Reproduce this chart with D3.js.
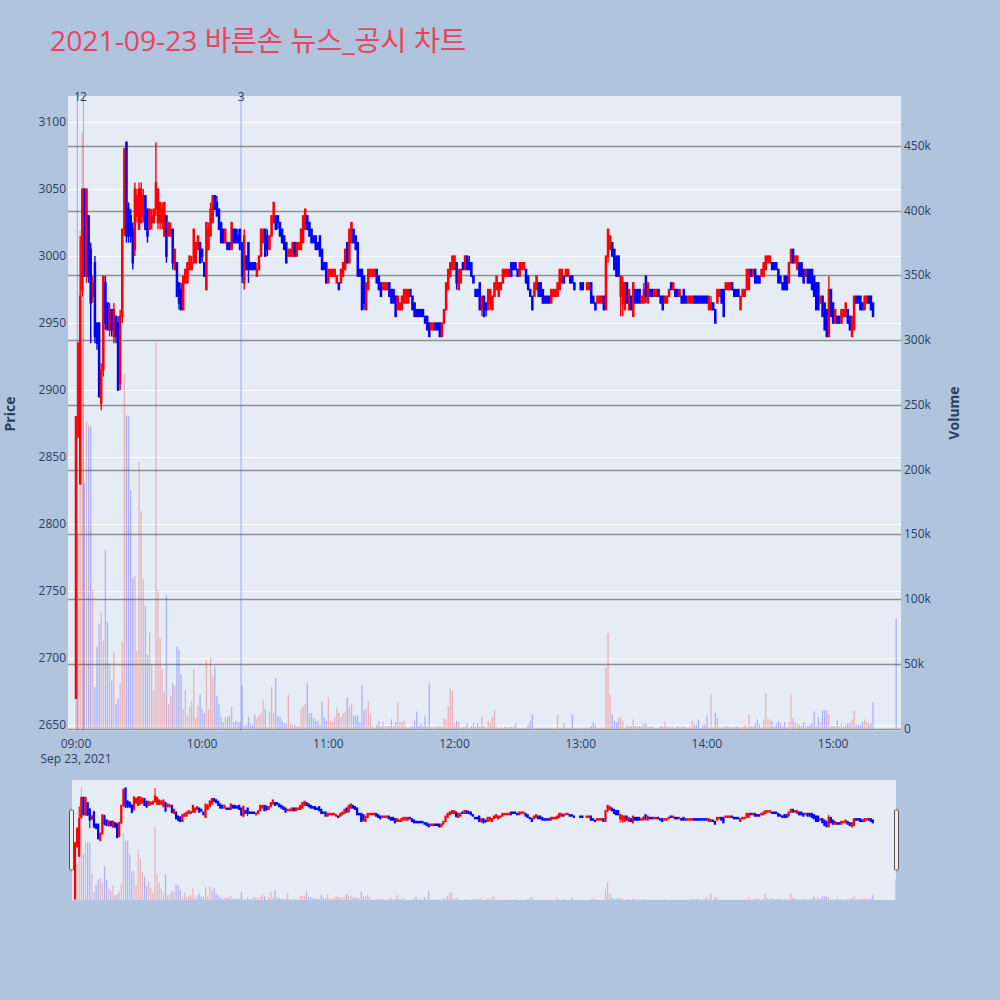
<!DOCTYPE html>
<html><head><meta charset="utf-8">
<script src="https://cdn.jsdelivr.net/npm/d3@7"></script>
<style>body{margin:0;background:#b0c4de;} svg{display:block;font-family:"Open Sans",verdana,arial,"Noto Sans CJK KR",sans-serif;}</style>
</head><body><svg id="c" width="1000" height="1000"></svg>
<script>
const titleText = "2021-09-23 바른손 뉴스_공시 차트";
const tradeDate = "2021-09-23";
const startTime = "09:00:00";
const opens = [2670,2865,2830,2975,3050,2985,3030,3005,2970,2995,
2950,2950,2890,2915,2980,2965,2945,2960,2940,2955,
2950,2905,2955,3020,3085,3035,3030,3020,3005,3030,
3020,3025,3030,3045,3035,3020,3025,3025,3035,3025,
3025,3025,3015,3030,3015,3015,3020,2990,2995,2980,
2975,2960,2980,2980,2990,2990,2995,2995,3005,3010,
3005,2995,2975,3005,3015,3025,3045,3040,3035,3025,
3020,3010,3010,3010,3005,3020,3020,3015,3020,3010,
2980,3000,3010,2995,2995,2995,2985,2990,3000,3010,
3020,3015,3005,3015,3025,3030,3030,3025,3020,3015,
3010,3000,3000,3000,3010,3000,3005,3005,3010,3020,
3030,3025,3020,3015,3015,3010,3015,3005,2995,2995,
2980,2985,2985,2985,2980,2980,2980,2985,2990,3010,
2995,3010,3020,3015,3010,2990,2990,2985,2960,2975,
2985,2985,2985,2990,2985,2980,2975,2975,2975,2980,
2975,2975,2970,2960,2960,2960,2965,2965,2965,2975,
2970,2965,2960,2960,2960,2960,2955,2955,2950,2945,
2945,2950,2950,2950,2940,2950,2960,2975,2985,2990,
2990,2995,2975,2980,2995,2990,3000,2995,2995,2985,
2975,2975,2980,2960,2970,2965,2960,2965,2960,2970,
2975,2970,2975,2980,2985,2985,2985,2995,2995,2995,
2990,2985,2990,2990,2990,2985,2975,2970,2970,2975,
2980,2980,2975,2970,2970,2970,2965,2970,2970,2970,
2975,2980,2985,2985,2985,2985,2985,2980,2975,2975,
2980,2980,2975,2975,2975,2980,2970,2965,2965,2965,
2965,2970,2960,3000,3005,3010,3005,3000,3000,2970,
2965,2960,2980,2960,2970,2955,2975,2975,2975,2965,
2965,2985,2965,2975,2975,2970,2970,2975,2970,2970,
2965,2965,2970,2980,2975,2975,2975,2970,2970,2975,
2970,2965,2965,2965,2970,2970,2970,2970,2970,2970,
2970,2960,2960,2965,2960,2965,2970,2975,2975,2975,
2975,2975,2980,2975,2975,2975,2960,2970,2970,2975,
2975,2990,2985,2990,2985,2985,2985,2985,2990,2995,
2995,2995,2995,2995,2990,2985,2980,2985,2985,2980,
2995,3005,2995,2990,2995,2995,2990,2985,2990,2990,
2990,2985,2980,2980,2965,2970,2965,2960,2940,2975,
2965,2950,2955,2955,2950,2955,2955,2960,2955,2940,
2945,2970,2970,2970,2965,2960,2965,2970,2970,2965];
const highs = [2880,2935,3015,3050,3050,3050,3030,3010,2985,3000,
2950,2950,2920,2985,2985,2965,2965,2960,2965,2955,
2955,2960,3020,3080,3085,3040,3035,3025,3055,3050,
3055,3055,3050,3045,3035,3035,3035,3035,3085,3050,
3040,3040,3040,3030,3025,3025,3020,3005,2995,2980,
2980,2985,2990,2995,3000,3000,3020,3010,3015,3010,
3005,2995,3025,3025,3040,3045,3045,3045,3035,3025,
3020,3020,3010,3010,3025,3020,3020,3020,3020,3010,
3020,3000,3010,2995,2995,2995,2995,3000,3020,3020,
3020,3020,3015,3030,3040,3030,3030,3025,3020,3015,
3010,3005,3005,3010,3010,3010,3010,3020,3030,3035,
3030,3025,3020,3015,3015,3010,3015,3005,2995,2995,
2990,2990,2990,2990,2985,2980,2990,2995,3005,3010,
3020,3025,3020,3015,3010,2990,2990,2985,2980,2990,
2990,2990,2990,2990,2985,2980,2980,2980,2980,2980,
2975,2975,2970,2970,2965,2970,2975,2975,2975,2975,
2970,2965,2960,2960,2960,2960,2955,2955,2950,2950,
2950,2950,2950,2950,2950,2960,2980,2990,2995,3000,
3000,2995,2990,2990,2995,3000,3000,3000,2995,2985,
2975,2975,2980,2970,2970,2965,2975,2975,2970,2980,
2985,2980,2980,2990,2990,2990,2990,2995,2995,2995,
2990,2995,2995,2995,2990,2985,2975,2970,2980,2985,
2980,2980,2975,2970,2970,2970,2975,2975,2975,2980,
2990,2990,2985,2990,2990,2985,2985,2980,2975,2975,
2980,2980,2975,2980,2980,2980,2970,2965,2970,2970,
2970,2970,3000,3020,3015,3010,3005,3000,3000,2985,
2985,2980,2980,2975,2970,2980,2975,2975,2975,2970,
2980,2985,2980,2975,2975,2975,2975,2975,2970,2970,
2970,2970,2975,2980,2980,2975,2975,2975,2970,2975,
2970,2970,2970,2970,2970,2970,2970,2970,2970,2970,
2970,2970,2970,2965,2960,2975,2975,2975,2975,2980,
2980,2980,2980,2975,2975,2975,2970,2975,2975,2990,
2990,2990,2990,2990,2985,2985,2990,2995,3000,3000,
3000,2995,2995,2995,2990,2985,2980,2985,2985,2995,
3005,3005,3000,3000,2995,2995,2990,2990,2990,2990,
2990,2985,2980,2980,2970,2970,2965,2960,2985,2975,
2965,2960,2955,2955,2960,2960,2965,2960,2955,2955,
2970,2970,2970,2970,2965,2970,2970,2970,2970,2965];
const lows = [2670,2865,2830,2970,2985,2980,2980,2935,2965,2935,
2930,2895,2885,2910,2945,2945,2940,2940,2935,2935,
2900,2900,2950,3015,3010,3010,3010,2990,3000,3025,
3020,3025,3025,3020,3010,3020,3020,3025,3030,3020,
3020,3020,3015,2995,3015,3015,2990,2990,2970,2960,
2960,2960,2980,2980,2990,2990,2995,2995,3005,2995,
2995,2985,2975,3005,3015,3025,3035,3030,3020,3010,
3010,3010,3005,3005,3005,3010,3010,3010,3005,2980,
2975,2990,2980,2990,2990,2990,2985,2990,3000,3010,
3000,3000,3005,3015,3025,3020,3020,3015,3010,3005,
2995,3000,3000,3000,3000,3000,3005,3005,3010,3020,
3020,3015,3010,3010,3005,3005,3000,2990,2990,2980,
2980,2985,2985,2985,2980,2975,2980,2985,2990,2995,
2995,3010,3010,3005,2985,2985,2960,2960,2960,2975,
2985,2985,2985,2980,2975,2970,2975,2975,2975,2970,
2965,2965,2955,2960,2960,2960,2965,2965,2965,2970,
2960,2955,2955,2955,2955,2955,2950,2945,2940,2945,
2945,2945,2945,2940,2940,2950,2960,2975,2985,2990,
2990,2975,2975,2980,2990,2990,2990,2990,2985,2980,
2970,2970,2960,2955,2955,2955,2960,2960,2960,2970,
2975,2970,2975,2980,2985,2985,2985,2985,2990,2990,
2985,2985,2990,2990,2980,2975,2970,2960,2970,2975,
2970,2970,2965,2965,2965,2965,2965,2970,2970,2970,
2975,2980,2980,2985,2985,2980,2980,2975,2975,2975,
2975,2975,2975,2975,2975,2965,2965,2960,2965,2965,
2965,2960,2960,2995,3005,3000,2990,2985,2985,2955,
2955,2960,2965,2960,2960,2955,2965,2965,2965,2965,
2965,2965,2965,2970,2970,2970,2970,2970,2965,2960,
2965,2965,2970,2975,2975,2970,2970,2970,2965,2965,
2965,2965,2965,2965,2965,2965,2965,2965,2965,2965,
2965,2960,2960,2960,2950,2965,2970,2965,2955,2975,
2975,2975,2975,2970,2970,2970,2960,2970,2970,2975,
2975,2985,2985,2980,2980,2980,2985,2985,2990,2995,
2995,2990,2990,2990,2980,2980,2975,2975,2975,2980,
2995,2995,2995,2990,2985,2985,2980,2985,2980,2980,
2975,2970,2960,2960,2965,2955,2945,2940,2940,2955,
2950,2950,2950,2950,2950,2955,2955,2950,2945,2940,
2945,2965,2965,2960,2960,2960,2965,2965,2960,2955];
const closes = [2880,2935,2970,3050,2985,3050,2985,2965,2980,2940,
2935,2895,2915,2985,2950,2945,2960,2945,2960,2940,
2900,2955,3020,3080,3015,3015,3015,2995,3050,3045,
3050,3050,3045,3020,3015,3035,3030,3035,3055,3050,
3040,3035,3040,3000,3025,3020,2995,3005,2970,2965,
2960,2985,2990,2995,3000,2995,3020,3010,3015,2995,
3000,2985,3025,3020,3035,3045,3035,3030,3020,3010,
3010,3020,3005,3005,3025,3010,3010,3010,3005,2985,
3015,2990,2990,2990,2990,2990,2990,3000,3020,3020,
3000,3005,3015,3030,3040,3020,3025,3015,3010,3005,
2995,3005,3005,3010,3000,3010,3010,3020,3030,3035,
3020,3015,3010,3010,3005,3005,3000,2990,2990,2980,
2990,2990,2990,2990,2985,2975,2990,2995,3005,2995,
3020,3025,3010,3005,2985,2985,2960,2965,2980,2990,
2990,2990,2990,2980,2975,2970,2980,2980,2980,2970,
2965,2965,2955,2970,2965,2970,2975,2975,2975,2970,
2960,2955,2955,2955,2955,2955,2950,2945,2940,2950,
2950,2945,2945,2940,2950,2960,2980,2990,2995,3000,
3000,2980,2990,2990,2990,3000,2990,2990,2985,2980,
2970,2970,2960,2970,2955,2960,2975,2975,2970,2980,
2985,2980,2980,2990,2990,2990,2990,2985,2990,2990,
2985,2995,2995,2995,2980,2975,2970,2960,2980,2985,
2970,2970,2965,2965,2965,2965,2975,2975,2975,2980,
2990,2990,2980,2990,2990,2980,2980,2975,2975,2975,
2975,2975,2975,2980,2980,2965,2965,2960,2970,2970,
2970,2960,3000,3020,3015,3000,2990,2985,2985,2985,
2980,2980,2965,2975,2960,2980,2965,2965,2965,2970,
2975,2970,2980,2970,2970,2975,2975,2970,2965,2960,
2970,2970,2975,2975,2980,2970,2970,2975,2965,2965,
2965,2970,2970,2970,2965,2965,2965,2965,2965,2965,
2965,2970,2965,2960,2950,2975,2975,2965,2955,2980,
2980,2980,2975,2970,2970,2970,2970,2975,2975,2990,
2990,2985,2990,2980,2980,2980,2990,2995,3000,3000,
3000,2990,2990,2990,2980,2980,2975,2975,2975,2995,
3005,2995,3000,3000,2985,2985,2980,2990,2980,2980,
2975,2970,2960,2960,2970,2955,2945,2940,2975,2955,
2950,2960,2950,2950,2960,2960,2965,2950,2945,2955,
2970,2965,2965,2960,2960,2970,2970,2965,2960,2955];
// volume in thousands of shares
const volumesK = [89,150,385,460,190,237,234,233,107,32,
63,81,90,68,138,82,50,37,59,19,
23,35,67,274,242,241,184,116,118,60,
206,168,115,95,57,74,50,30,298,107,
70,46,28,103,19,25,35,33,63,61,
42,15,30,10,17,21,46,8,18,26,
15,12,53,15,55,40,48,25,19,9,
5,9,9,10,17,5,6,5,5,33,
3,3,9,4,3,11,8,10,12,22,
15,1,13,32,12,39,10,9,6,4,
4,26,4,3,3,2,2,15,17,19,
35,12,12,8,6,6,3,21,9,6,
24,6,5,9,16,12,9,12,13,24,
17,19,10,10,10,5,34,14,16,21,
12,2,1,3,6,1.5,5,2,2,2,
7,2,5,20,5,5,6,2,0.5,1.5,
2,6,13,2,4,1.5,10,1.5,35,1.5,
2,1.5,1.5,1.5,1.5,8,7,17,31,29,
4,6,5,1,1,1.5,4,0.5,2,4,
1.5,4,1.5,9,2,0.5,6,4,9,14,
1,0.5,1,0.5,1.5,1.5,1,1,1,4,
0.5,0.5,0.5,0.5,0.5,3,6,11,0.5,0.3,
0.5,0.5,0.5,0.5,0.5,0.3,0.5,0.3,0.5,11,
0.5,0.5,4,0.5,0.5,0.5,11,0.5,0.5,0.5,
0.5,0.5,0.5,0.5,0.5,2,5,3,0.3,0.5,
1,0.5,47,74,26,11,6,5,8,9,
6,0.5,3,2,2,7,2,1.5,2,2,
4,4,1,1.5,1.5,1,0.5,0.5,2,1.5,
5,1.5,1.5,1,1.5,0.5,1.5,1,1.5,1.5,
1,0.5,1.5,6,3,3,7,0.5,3,3,
10,1,26,1,12,8,1,1,1,2,
2,1,1,1,1.5,1,1,1.5,3,1.5,
11,2,2,4,7,3,1,7,27,7,
7,6,1.5,4,6,4,1.5,5,1,5,
26,8,5,4,3,2,5,3,2,3,
4,13,1.5,9,5,14,14,14,11,2,
2,1.5,6,1.5,4,1.5,3,4,4,7,
14,3,3,3,5,7,5,4,4,20];
// closing auction print
const closeTime = "15:30:00";
const closeOHLC = [2920,2920,2920,2920];
const closeVolumeK = 85;
// news / disclosure markers
const newsTimes = ["09:00:38","09:03:32","10:18:30"];
const newsLabels = ["1","2","3"];
const priceTicks = [2650,2700,2750,2800,2850,2900,2950,3000,3050,3100];
const volumeTicksK = [0,50,100,150,200,250,300,350,400,450];

const INC = "#ff0000", DEC = "#0000ff";
const FONT_COLOR = "#2a3f5f";

const parseT = d3.timeParse("%Y-%m-%d %H:%M:%S");
const at = s => parseT(`${tradeDate} ${s}`);
const t0 = at(startTime);
const data = opens.map((o,i)=>({t:d3.timeMinute.offset(t0,i), o, h:highs[i], l:lows[i], c:closes[i], v:volumesK[i]}));
data.push({t:at(closeTime), o:closeOHLC[0], h:closeOHLC[1], l:closeOHLC[2], c:closeOHLC[3], v:closeVolumeK});

const svg = d3.select("#c");
svg.append("rect").attr("width",1000).attr("height",1000).attr("fill","#b0c4de");

const P = {l:68, r:901, t:96, b:731};
const S = {l:72, r:896, t:780, b:900};

const x = d3.scaleTime().domain([at("08:56:12"), at("15:32:18")]).range([P.l, P.r]);
const y = d3.scaleLinear().domain([2645.5, 3119.5]).range([P.b, P.t]);
const yv = d3.scaleLinear().domain([-1.9, 488.6]).range([P.b, P.t]);

// title
svg.append("text").attr("x",50).attr("y",51).attr("font-size",28).attr("fill","#e8445f")
  .attr("textLength",416).attr("lengthAdjust","spacingAndGlyphs").text(titleText);

// plot background
svg.append("rect").attr("x",P.l).attr("y",P.t).attr("width",P.r-P.l).attr("height",P.b-P.t).attr("fill","#e5ecf6");
svg.append("clipPath").attr("id","pc").append("rect").attr("x",P.l).attr("y",P.t).attr("width",P.r-P.l).attr("height",P.b-P.t);

// grids
const grid = svg.append("g");
grid.selectAll("line.pg").data(priceTicks).join("line")
  .attr("x1",P.l).attr("x2",P.r).attr("y1",d=>Math.round(y(d))+0.5).attr("y2",d=>Math.round(y(d))+0.5)
  .attr("stroke","#ffffff").attr("stroke-width",1.2);
grid.selectAll("line.vg").data(volumeTicksK).join("line")
  .attr("x1",P.l).attr("x2",P.r).attr("y1",d=>Math.round(yv(d))+0.5).attr("y2",d=>Math.round(yv(d))+0.5)
  .attr("stroke","#8f8f8f").attr("stroke-width",1.4);

function drawCandles(g, xs, ys, body, stroke, wick){
  g.selectAll("g.cd").data(data).join("g").attr("class","cd").each(function(d){
    const sel = d3.select(this);
    const col = d.c > d.o ? INC : DEC;
    const cx = xs(d.t);
    sel.append("line").attr("x1",cx).attr("x2",cx).attr("y1",ys(d.h)).attr("y2",ys(d.l))
      .attr("stroke",col).attr("stroke-width",wick);
    const top = ys(Math.max(d.o,d.c)), bot = ys(Math.min(d.o,d.c));
    sel.append("rect").attr("x",cx-body/2).attr("y",top).attr("width",body).attr("height",Math.max(0,bot-top))
      .attr("fill",col).attr("stroke",col).attr("stroke-width",stroke);
  });
}
function drawVolume(g, xs, ys, w){
  g.selectAll("rect.vb").data(data).join("rect").attr("class","vb")
    .attr("x",d=>xs(d.t)-w/2).attr("width",w)
    .attr("y",d=>ys(d.v)).attr("height",d=>ys(0)-ys(d.v))
    .attr("fill",d=>d.c > d.o ? INC : DEC).attr("fill-opacity",0.25);
}

const main = svg.append("g").attr("clip-path","url(#pc)");
drawCandles(main.append("g"), x, y, 1, 1.5, 1.4);
drawVolume(main.append("g"), x, yv, 1.3);

// news markers
const news = svg.append("g");
newsTimes.forEach((s,i)=>{
  const nx = x(at(s));
  news.append("line").attr("x1",nx).attr("x2",nx).attr("y1",P.t).attr("y2",P.b)
    .attr("stroke","rgba(65,105,225,0.5)").attr("stroke-width",1);
  news.append("text").attr("x",nx).attr("y",101).attr("text-anchor","middle")
    .attr("font-size",12).attr("fill",FONT_COLOR).text(newsLabels[i]);
});

// axes labels
const axisG = svg.append("g").attr("font-size",12).attr("fill",FONT_COLOR);
axisG.selectAll("text.py").data(priceTicks).join("text")
  .attr("x",P.l-2).attr("y",d=>y(d)+4).attr("text-anchor","end").text(d=>d);
axisG.selectAll("text.vy").data(volumeTicksK).join("text")
  .attr("x",P.r+3).attr("y",d=>yv(d)+4).attr("text-anchor","start").text(d=>d===0?"0":d+"k");
const xt = x.ticks(d3.timeHour.every(1));
const fmt = d3.timeFormat("%H:%M");
axisG.selectAll("text.xt").data(xt).join("text")
  .attr("x",d=>x(d)).attr("y",748).attr("text-anchor","middle").text(d=>fmt(d));
axisG.append("text").attr("x",x(xt[0])).attr("y",763).attr("text-anchor","middle").text(d3.timeFormat("%b %-d, %Y")(xt[0]));

svg.append("text").attr("transform","translate(15,414) rotate(-90)").attr("text-anchor","middle")
  .attr("font-size",14).attr("font-weight","bold").attr("fill",FONT_COLOR).text("Price");
svg.append("text").attr("transform","translate(959,413) rotate(-90)").attr("text-anchor","middle")
  .attr("font-size",14).attr("font-weight","bold").attr("fill",FONT_COLOR).text("Volume");

// range slider
svg.append("rect").attr("x",S.l).attr("y",S.t).attr("width",S.r-S.l).attr("height",S.b-S.t).attr("fill","#e5ecf6");
svg.append("clipPath").attr("id","sc").append("rect").attr("x",S.l).attr("y",S.t).attr("width",S.r-S.l).attr("height",S.b-S.t);
const xs = d3.scaleTime().domain([at("08:58:34"), at("15:30:00")]).range([S.l, S.r]);
const ys = d3.scaleLinear().domain([d3.min(lows), d3.max(highs)]).range([S.b-1, S.t+8]);
const yvs = d3.scaleLinear().domain([0, 488]).range([S.b, S.t]);
const sl = svg.append("g").attr("clip-path","url(#sc)");
drawCandles(sl.append("g"), xs, ys, 1, 1.2, 1);
drawVolume(sl.append("g"), xs, yvs, 1.2);
[S.l-2.5, S.r-1.5].forEach(hx=>{
  svg.append("rect").attr("x",hx).attr("y",810).attr("width",4).attr("height",60).attr("rx",1)
    .attr("fill","#eeeeee").attr("stroke","#555").attr("stroke-width",1);
});
</script></body></html>
